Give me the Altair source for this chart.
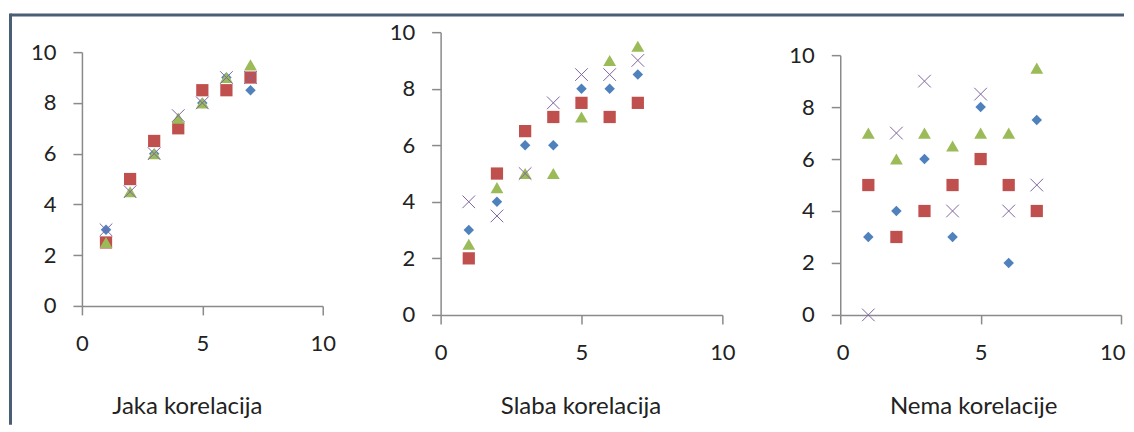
import altair as alt
import pandas as pd

# ---- data ----
x_vals = [1, 2, 3, 4, 5, 6, 7]
series_names = ["Niz 1", "Niz 2", "Niz 3", "Niz 4"]
panel_titles = ["Jaka korelacija", "Slaba korelacija", "Nema korelacije"]
x_ticks = [0, 5, 10]
y_ticks = [0, 2, 4, 6, 8, 10]

jaka_s1 = [3, 5, 6, 7, 8, 9, 8.5]
jaka_s2 = [2.5, 5, 6.5, 7, 8.5, 8.5, 9]
jaka_s3 = [2.5, 4.5, 6, 7.4, 8, 9, 9.5]
jaka_s4 = [3, 4.5, 6, 7.5, 8, 9, 9]

slaba_s1 = [3, 4, 6, 6, 8, 8, 8.5]
slaba_s2 = [2, 5, 6.5, 7, 7.5, 7, 7.5]
slaba_s3 = [2.5, 4.5, 5, 5, 7, 9, 9.5]
slaba_s4 = [4, 3.5, 5, 7.5, 8.5, 8.5, 9]

nema_s1 = [3, 4, 6, 3, 8, 2, 7.5]
nema_s2 = [5, 3, 4, 5, 6, 5, 4]
nema_s3 = [7, 6, 7, 6.5, 7, 7, 9.5]
nema_s4 = [0, 7, 9, 4, 8.5, 4, 5]

colors = ["#4F81BD", "#C0504D", "#9BBB59", "#8064A2"]
X_PATH = "M-1,-1L1,1M-1,1L1,-1"
# shape, size, filled
styles = [("diamond", 110, True), ("square", 150, True),
          ("triangle-up", 165, True), (X_PATH, 160, False)]

FONT = "Lato"


def make_df(series):
    rows = []
    for name, vals in zip(series_names, series):
        for x, y in zip(x_vals, vals):
            rows.append({"s": name, "x": x, "y": y})
    return pd.DataFrame(rows)


def panel(series, title, width, height, yrange, title_x, title_y,
          frame=False, flush_last=False):
    df = make_df(series)
    axis_kw = dict(values=x_ticks, title=title, titleX=title_x,
                   titleY=title_y, titleAlign="center",
                   titleBaseline="alphabetic", labelFlush=flush_last)
    if flush_last:
        axis_kw["labelFlushOffset"] = 4
    xenc = alt.X("x:Q",
                 scale=alt.Scale(domain=[0, 10], nice=False, zero=False),
                 axis=alt.Axis(**axis_kw))
    yenc = alt.Y("y:Q",
                 scale=alt.Scale(domain=[0, 10], range=yrange, nice=False),
                 axis=alt.Axis(values=y_ticks, title=None))
    layers = []
    if frame:
        fr = alt.Chart(pd.DataFrame({"a": [0]}))
        layers.append(fr.mark_rule(color="#4a5e75", strokeWidth=3).encode(
            x=alt.value(-71.5), x2=alt.value(1043), y=alt.value(-17.2)))
        layers.append(fr.mark_rule(color="#4a5e75", strokeWidth=3).encode(
            x=alt.value(-71.5), y=alt.value(-18.7), y2=alt.value(393)))
    for name, col, (shape, size, filled) in zip(series_names, colors, styles):
        if filled:
            m = alt.Chart(df).transform_filter(alt.datum.s == name).mark_point(
                shape=shape, size=size, filled=True, color=col, opacity=1,
                strokeWidth=0)
        else:
            m = alt.Chart(df).transform_filter(alt.datum.s == name).mark_point(
                shape=shape, size=size, filled=False, color=col, opacity=1,
                strokeWidth=1)
        layers.append(m.encode(x=xenc, y=yenc))
    return alt.layer(*layers).properties(width=width, height=height)


p1 = panel([jaka_s1, jaka_s2, jaka_s3, jaka_s4], panel_titles[0],
           241, 274, [274, 20], 105, 108, frame=True)
p2 = panel([slaba_s1, slaba_s2, slaba_s3, slaba_s4], panel_titles[1],
           282, 283, [283, 0], 140, 99)
p3 = panel([nema_s1, nema_s2, nema_s3, nema_s4], panel_titles[2],
           281, 283, [283, 23], 133, 99, flush_last=True)

chart = alt.HConcatChart(hconcat=[p1, p2, p3], spacing=118, bounds="flush").properties(
    padding={"left": 1, "top": 3, "right": 0, "bottom": 0},
    background="white",
).configure_view(strokeWidth=0).configure_axis(
    grid=False,
    domainColor="#8a8a8a", domainWidth=1.5,
    tickColor="#8a8a8a", tickWidth=1.5, tickSize=9,
    labelFont=FONT, labelFontSize=22, labelColor="#222222",
    titleFont=FONT, titleFontSize=24, titleFontWeight="normal",
    titleColor="#222222",
).configure_axisX(labelPadding=19, labelOverlap=False
).configure_axisY(labelPadding=17)

chart.save("out.html", embed_options={"renderer": "svg", "actions": False})
